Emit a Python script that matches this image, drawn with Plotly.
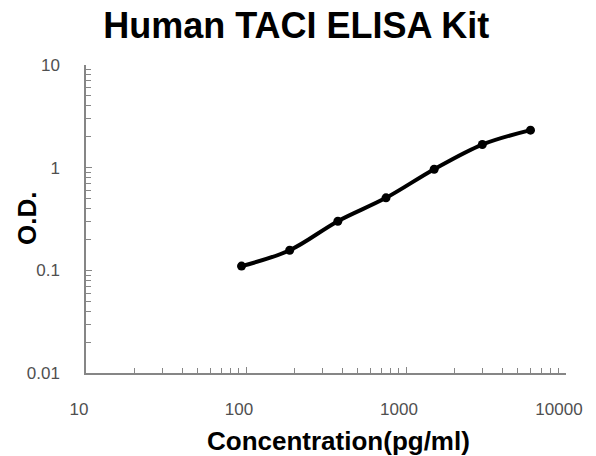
import plotly.graph_objects as go

title_text = "Human TACI ELISA Kit"
x_title = "Concentration(pg/ml)"
y_title = "O.D."

concentration = [93.75, 187.5, 375, 750, 1500, 3000, 6000]
od = [0.110, 0.157, 0.301, 0.508, 0.966, 1.68, 2.32]

x_tick_vals = [10, 100, 1000, 10000]
x_tick_text = ["10", "100", "1000", "10000"]
y_tick_vals = [0.01, 0.1, 1, 10]
y_tick_text = ["0.01", "0.1", "1", "10"]

x_minor = [m * 10 ** e for e in range(1, 4) for m in range(2, 10)]
y_minor = [m * 10.0 ** e for e in range(-2, 1) for m in range(2, 10)]

FONT = "Liberation Sans, Arial, sans-serif"

fig = go.Figure()
fig.add_trace(go.Scatter(
    x=concentration, y=od, mode="lines+markers",
    line=dict(color="black", width=4, shape="spline", smoothing=1.0),
    marker=dict(color="black", size=9),
    showlegend=False,
))

axis_font = dict(family=FONT, size=17, color="#505050")
axis_common = dict(
    type="log", tickmode="array",
    ticks="inside", ticklen=6, tickcolor="#868686", tickwidth=1,
    showline=True, linecolor="#868686", linewidth=1.5, showgrid=False, zeroline=False,
    tickfont=axis_font, automargin=False,
)
fig.update_layout(
    width=596, height=456,
    margin=dict(l=85.5, r=29.5, t=65, b=83.3),
    paper_bgcolor="white", plot_bgcolor="white",
    title=dict(text="<b>" + title_text + "</b>", x=0.497, xanchor="center", y=0.945, yanchor="middle",
               font=dict(family=FONT, size=36, color="black")),
    xaxis=dict(
        range=[1, 4], tickvals=x_tick_vals, ticktext=x_tick_text,
        ticklabelstandoff=20, ticklabelshift=-7,
        minor=dict(tickmode="array", tickvals=x_minor, ticks="inside", ticklen=5, tickcolor="#868686", showgrid=False),
        **axis_common,
    ),
    yaxis=dict(
        range=[-2, 1], tickvals=y_tick_vals, ticktext=y_tick_text,
        ticklabelstandoff=21,
        minor=dict(tickmode="array", tickvals=y_minor, ticks="inside", ticklen=5, tickcolor="#868686", showgrid=False),
        **axis_common,
    ),
    annotations=[
        dict(text="<b>" + x_title + "</b>", xref="paper", yref="paper", x=0.525, y=0,
             xanchor="center", yanchor="middle", yshift=-68, showarrow=False,
             font=dict(family=FONT, size=26, color="black")),
        dict(text="<b>" + y_title + "</b>", xref="paper", yref="paper", x=0, y=0.5,
             xanchor="center", yanchor="middle", xshift=-59, textangle=-90, showarrow=False,
             font=dict(family=FONT, size=26, color="black")),
    ],
)

# remove the default 8px body margin so the figure fills the window exactly
fig.write_html("out.html", config={"displayModeBar": False},
               post_script="document.body.style.margin='0px';")
